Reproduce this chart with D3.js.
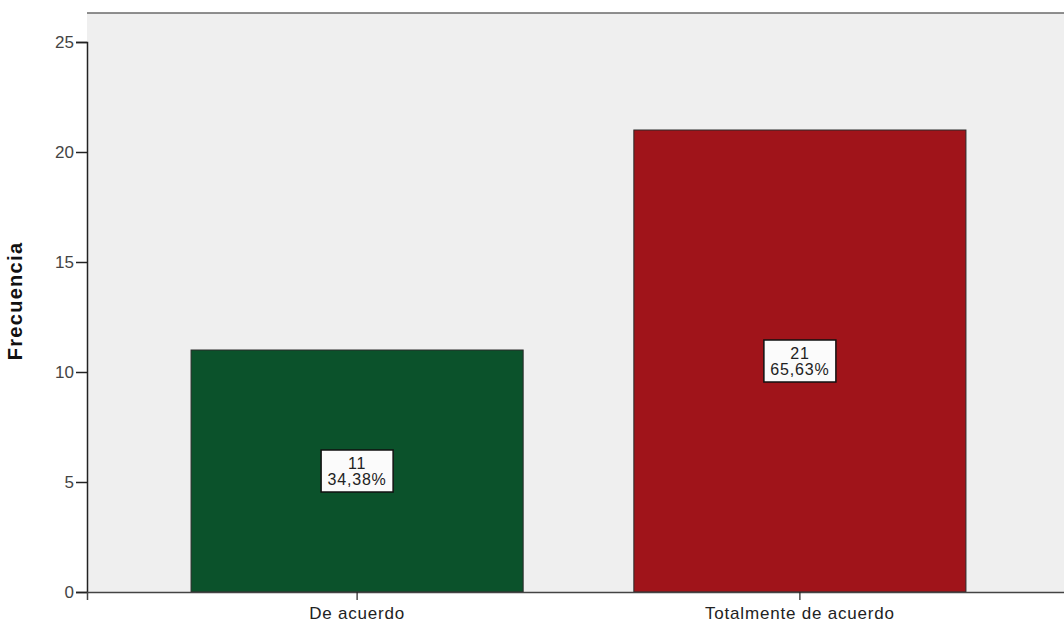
<!DOCTYPE html>
<html>
<head>
<meta charset="utf-8">
<script src="https://cdn.jsdelivr.net/npm/d3@7"></script>
<style>
  body { margin: 0; background: #fff; }
  text { font-family: "Liberation Sans", Arial, sans-serif; }
</style>
</head>
<body>
<svg id="chart" width="1064" height="623"></svg>
<script>
// Frequency of responses per category
const categories = ["De acuerdo", "Totalmente de acuerdo"];
const counts = [11, 21];
const percents = ["34,38%", "65,63%"];
const yTicks = [0, 5, 10, 15, 20, 25];
const barColors = ["#0b522b", "#a0141a"];

const svg = d3.select("#chart");
const plot = { left: 87, top: 13, right: 1070, bottom: 592 };
const FONT = "'Liberation Sans', Arial, sans-serif";

const y = d3.scaleLinear().domain([0, 25]).range([plot.bottom, 42]);
const x = d3.scaleBand()
  .domain(categories)
  .range([plot.left, plot.right])
  .paddingInner(0.25)
  .paddingOuter(0.235);

// Plot background and frame
svg.append("rect")
  .attr("x", plot.left).attr("y", plot.top)
  .attr("width", plot.right - plot.left).attr("height", plot.bottom - plot.top)
  .attr("fill", "#efefef");
svg.append("line")
  .attr("x1", plot.left).attr("x2", plot.right)
  .attr("y1", plot.top).attr("y2", plot.top)
  .attr("stroke", "#6a6a6a").attr("stroke-width", 1.5);

// Bars
svg.selectAll("rect.bar")
  .data(categories)
  .join("rect")
  .attr("class", "bar")
  .attr("x", d => x(d))
  .attr("y", (d, i) => y(counts[i]))
  .attr("width", x.bandwidth())
  .attr("height", (d, i) => y(0) - y(counts[i]))
  .attr("fill", (d, i) => barColors[i])
  .attr("stroke", "#2a2a2a")
  .attr("stroke-width", 1);

// Y axis
const yAxis = svg.append("g")
  .attr("transform", `translate(${plot.left},0)`)
  .call(d3.axisLeft(y).tickValues(yTicks).tickSize(11).tickPadding(2));
yAxis.select(".domain").attr("stroke", "#222").attr("stroke-width", 1.5);
yAxis.selectAll(".tick line").attr("stroke", "#222").attr("stroke-width", 1.5);
yAxis.selectAll(".tick text")
  .attr("font-size", 17).attr("fill", "#444")
  .attr("font-family", FONT);

// X axis
const xAxis = svg.append("g")
  .attr("transform", `translate(0,${plot.bottom})`)
  .call(d3.axisBottom(x).tickSize(8).tickPadding(7));
xAxis.select(".domain").attr("stroke", "#444").attr("stroke-width", 1.5);
xAxis.selectAll(".tick line").attr("stroke", "#222").attr("stroke-width", 1.2);
xAxis.selectAll(".tick text")
  .attr("font-size", 17).attr("fill", "#222")
  .attr("letter-spacing", 0.8)
  .attr("font-family", FONT);

// Axis title
svg.append("text")
  .attr("transform", "translate(22,301) rotate(-90)")
  .attr("text-anchor", "middle")
  .attr("font-size", 20)
  .attr("font-weight", "bold")
  .attr("letter-spacing", 1.3)
  .attr("fill", "#111")
  .text("Frecuencia");

// Value labels in the middle of each bar
const labels = svg.selectAll("g.lbl")
  .data(categories)
  .join("g")
  .attr("class", "lbl")
  .attr("transform", (d, i) => `translate(${x(d) + x.bandwidth() / 2},${(y(0) + y(counts[i])) / 2})`);

labels.append("rect")
  .attr("x", -36).attr("y", -21)
  .attr("width", 72).attr("height", 42)
  .attr("fill", "#fbfbfb")
  .attr("stroke", "#111").attr("stroke-width", 1.5);

labels.append("text")
  .attr("text-anchor", "middle")
  .attr("y", -2)
  .attr("font-size", 16)
  .attr("letter-spacing", 0.8)
  .attr("fill", "#222")
  .text((d, i) => counts[i]);

labels.append("text")
  .attr("text-anchor", "middle")
  .attr("y", 14)
  .attr("font-size", 16)
  .attr("letter-spacing", 0.8)
  .attr("fill", "#222")
  .text((d, i) => percents[i]);
</script>
</body>
</html>
